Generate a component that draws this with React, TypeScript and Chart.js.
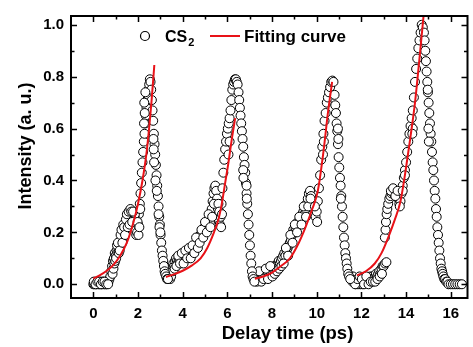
import React, { useEffect, useRef } from "react";
import { Chart, registerables } from "chart.js";

Chart.register(...registerables);

// ---- measured data (CS2 signal), four cycles ----
const cycleAX = [0.00,0.04,0.08,0.12,0.16,0.20,0.24,0.28,0.32,0.36,0.40,0.44,0.48,0.52,0.56,0.60,0.64,0.68,
  0.72,0.76,0.80,0.84,0.88,0.92,0.96,1.00,1.04,1.08,1.12,1.16,1.20,1.24,1.28,1.32,1.36,1.40,1.44,1.48,1.52,1.56,1.60,1.64,1.68,1.72,1.76,1.80,1.84,1.88,1.92,1.96,2.00,2.04,2.08,2.11,2.14,2.17,2.20,2.23,2.26,2.29,2.32,2.35,2.38,2.41,2.44,2.47,2.50,2.53,2.56,
  2.59,2.62,2.65,2.68,2.71,2.74,2.77,2.80,2.83,2.86,2.89,2.92,2.95,2.98,3.01,3.04,3.07,3.10,3.13,3.16,3.19,3.22,3.26,3.30,3.34,
  2.28,2.30,2.27,2.33,2.70,2.72,2.69,2.78,2.84,1.90,1.86,
  0.86,0.90,0.94,0.98,1.02,1.06,1.10,1.14,1.18,1.22,1.26,1.30,1.34,1.38,1.42,1.46,1.50,1.54,1.58,1.62,1.66,1.70,1.74,1.78,1.98,2.02,2.06,2.10,
  0.02,0.10,0.18,0.26,0.34,0.42,0.50,0.58,0.66,2.92,2.96,3.00];
const cycleAY = [0.00,0.00,0.01,0.00,0.00,0.01,0.00,0.00,0.01,0.00,0.00,0.01,0.00,0.00,0.01,0.00,0.01,0.01,
  0.02,0.03,0.05,0.07,0.09,0.10,0.12,0.11,0.13,0.12,0.14,0.16,0.15,0.17,0.19,0.18,0.20,0.22,0.21,0.23,0.25,0.24,0.26,0.27,0.25,0.27,0.26,0.24,0.22,0.21,0.19,0.20,0.23,0.27,0.31,0.35,0.39,0.43,0.47,0.51,0.55,0.58,0.62,0.65,0.68,0.71,0.73,0.75,0.77,0.79,0.78,
  0.75,0.71,0.67,0.63,0.58,0.54,0.50,0.46,0.42,0.38,0.34,0.30,0.26,0.23,0.19,0.16,0.13,0.11,0.09,0.07,0.05,0.04,0.03,0.02,0.02,
  0.70,0.66,0.62,0.74,0.52,0.47,0.56,0.40,0.36,0.25,0.27,
  0.04,0.06,0.08,0.09,0.10,0.15,0.16,0.12,0.13,0.19,0.21,0.16,0.23,0.22,0.19,0.25,0.27,0.22,0.28,0.23,0.29,0.28,0.24,0.28,0.24,0.19,0.22,0.29,
  0.01,0.00,0.01,0.01,0.00,0.01,0.01,0.00,0.00,0.27,0.22,0.20];

const cycleBX = [3.38,3.42,3.46,3.50,3.54,3.58,3.62,3.66,3.70,3.74,3.78,3.82,3.86,3.90,3.94,3.98,4.02,4.06,4.10,4.14,4.18,4.22,4.26,4.30,4.34,4.38,4.42,4.46,4.50,4.54,4.58,4.62,4.66,4.70,4.74,4.78,4.82,4.86,4.90,4.94,4.98,5.02,5.06,5.10,5.14,5.18,5.22,5.26,5.30,5.34,5.38,5.42,5.46,5.50,5.54,5.58,5.62,5.66,5.70,5.74,5.78,5.82,5.86,5.90,5.94,5.98,6.02,6.06,6.10,6.14,6.18,6.22,6.26,6.30,6.34,6.38,6.42,6.46,
  6.50,6.53,6.56,6.59,6.62,6.65,6.68,6.71,6.74,6.77,6.80,6.83,6.86,6.89,6.92,6.95,6.98,7.01,7.04,7.07,7.10,7.13,7.17,7.21,
  6.71,6.72,6.86,6.87,6.10,6.05,
  3.44,3.48,3.56,3.64,3.72,3.80,3.88,3.96,4.04,4.12,4.20,4.28,4.36,4.44,4.52,4.60,4.68,4.76,4.84,4.92,5.00,5.08,5.16,5.24,5.32,5.40,5.60,5.64,5.72,5.76];
const cycleBY = [0.03,0.04,0.06,0.05,0.07,0.08,0.07,0.09,0.10,0.09,0.08,0.09,0.10,0.11,0.10,0.09,0.10,0.12,0.11,0.10,0.12,0.13,0.12,0.11,0.12,0.14,0.13,0.12,0.14,0.15,0.14,0.16,0.17,0.16,0.18,0.19,0.18,0.20,0.21,0.20,0.22,0.21,0.23,0.22,0.24,0.25,0.24,0.27,0.29,0.32,0.35,0.37,0.38,0.36,0.33,0.29,0.25,0.23,0.26,0.31,0.37,0.43,0.48,0.52,0.55,0.58,0.60,0.62,0.64,0.67,0.71,0.75,0.77,0.78,0.79,0.79,0.78,0.77,
  0.74,0.71,0.68,0.65,0.62,0.59,0.56,0.53,0.49,0.46,0.43,0.39,0.35,0.31,0.27,0.23,0.19,0.15,0.11,0.08,0.05,0.03,0.02,0.01,
  0.44,0.41,0.38,0.33,0.55,0.50,
  0.02,0.03,0.05,0.06,0.07,0.11,0.08,0.12,0.08,0.13,0.10,0.14,0.10,0.15,0.12,0.18,0.14,0.16,0.21,0.18,0.24,0.20,0.27,0.22,0.26,0.31,0.31,0.28,0.22,0.27];

const cycleCX = [7.26,7.30,7.35,7.40,7.45,7.50,7.55,7.60,7.65,7.70,7.75,7.80,7.85,7.90,7.95,8.00,8.05,8.10,8.15,8.20,8.25,8.30,8.35,8.40,8.45,8.50,8.55,8.60,8.65,8.70,8.75,8.80,8.85,8.90,8.95,9.00,9.05,9.10,9.15,9.20,9.25,9.30,9.35,9.40,9.45,9.50,9.55,9.60,9.65,9.70,9.75,9.80,9.85,9.90,9.95,10.00,10.05,10.10,10.15,10.20,10.25,10.30,10.35,10.40,10.45,10.50,10.55,10.60,10.65,10.70,10.75,
  10.80,10.83,10.86,10.89,10.92,10.95,10.98,11.01,11.04,11.07,11.10,11.13,11.16,11.19,11.22,11.25,11.28,11.31,11.34,11.37,11.41,11.45,11.50,
  10.32,10.28,10.95,10.97,11.08,
  7.32,7.42,7.52,7.62,7.72,7.82,7.92,8.02,8.12,8.22,8.32,8.42,8.52,8.62,8.72,8.82,8.92,9.02,9.12,9.22,9.32,9.42,9.52,9.62,9.72,9.92,10.02];
const cycleCY = [0.02,0.03,0.04,0.03,0.02,0.03,0.04,0.05,0.04,0.03,0.04,0.05,0.06,0.05,0.04,0.05,0.06,0.07,0.06,0.07,0.08,0.09,0.08,0.09,0.10,0.11,0.12,0.11,0.13,0.14,0.15,0.16,0.17,0.19,0.21,0.20,0.22,0.23,0.24,0.23,0.25,0.26,0.27,0.28,0.27,0.29,0.31,0.33,0.35,0.36,0.34,0.31,0.29,0.27,0.26,0.28,0.32,0.37,0.42,0.48,0.53,0.58,0.63,0.66,0.70,0.72,0.74,0.76,0.78,0.785,0.78,
  0.73,0.69,0.66,0.62,0.59,0.54,0.49,0.45,0.41,0.38,0.34,0.30,0.26,0.22,0.18,0.15,0.12,0.10,0.08,0.06,0.04,0.03,0.02,
  0.55,0.50,0.60,0.56,0.33,
  0.01,0.05,0.01,0.02,0.06,0.02,0.07,0.03,0.04,0.05,0.06,0.07,0.08,0.14,0.11,0.19,0.16,0.23,0.20,0.26,0.23,0.30,0.26,0.30,0.33,0.30,0.24];

const cycleDX = [11.55,11.60,11.65,11.70,11.75,11.80,11.85,11.90,11.95,12.00,12.05,12.10,12.15,12.20,12.25,12.30,12.35,12.40,12.45,12.50,12.55,12.60,12.65,12.70,12.75,12.80,12.85,12.90,12.95,13.00,13.06,13.12,
  13.05,13.08,13.10,13.13,13.16,13.20,13.25,13.30,13.35,13.40,13.45,13.50,13.55,13.60,13.65,13.70,13.75,13.80,13.85,13.90,13.95,14.00,14.05,14.10,14.15,14.20,14.25,14.30,14.35,14.40,14.45,14.50,14.55,14.60,14.65,14.70,14.75,
  14.80,14.83,14.86,14.89,14.92,14.95,14.98,15.01,15.04,15.07,15.10,15.13,15.16,15.19,15.22,15.25,15.28,15.31,15.34,15.37,15.40,15.43,15.46,15.49,15.52,15.55,15.58,15.61,15.64,15.67,15.71,15.75,15.80,15.85,15.90,16.00,16.10,16.20,16.30,16.40,16.50,
  14.97,15.00,15.02,14.30,14.28,
  11.62,11.72,11.82,11.92,12.02,12.12,12.22,12.32,12.42,12.52,12.62,12.72,12.82,12.92,13.32,13.42,13.52,13.62,13.72,13.85,13.95];
const cycleDY = [0.02,0.01,0.02,0.01,0.00,0.01,0.00,0.01,0.00,0.01,0.00,0.01,0.02,0.01,0.02,0.01,0.02,0.03,0.02,0.03,0.02,0.03,0.04,0.03,0.04,0.05,0.04,0.06,0.07,0.07,0.08,0.085,
  0.18,0.21,0.24,0.27,0.29,0.31,0.33,0.34,0.35,0.36,0.35,0.36,0.35,0.34,0.33,0.31,0.32,0.35,0.38,0.41,0.44,0.47,0.51,0.55,0.58,0.61,0.64,0.67,0.72,0.78,0.83,0.87,0.91,0.94,0.97,1.00,0.99,
  0.97,0.94,0.90,0.86,0.82,0.78,0.74,0.70,0.66,0.62,0.58,0.55,0.51,0.47,0.44,0.40,0.36,0.33,0.29,0.26,0.22,0.19,0.16,0.13,0.10,0.08,0.06,0.05,0.04,0.03,0.02,0.02,0.01,0.01,0.00,0.00,0.00,0.00,0.00,0.00,0.00,
  0.75,0.60,0.55,0.60,0.58,
  0.03,0.00,0.02,0.03,0.02,0.00,0.03,0.00,0.01,0.01,0.01,0.02,0.03,0.04,0.36,0.37,0.34,0.36,0.30,0.36,0.42];

// ---- fitting curves ----
const fitAX = [0, 0.3, 0.6, 0.9, 1.2, 1.5, 1.8, 2.0, 2.2, 2.4, 2.6, 2.73];
const fitAY = [0.022, 0.035, 0.052, 0.075, 0.11, 0.16, 0.24, 0.31, 0.40, 0.52, 0.70, 0.845];
const fitBX = [3.25, 3.6, 4.0, 4.4, 4.8, 5.1, 5.4, 5.6, 5.75, 5.9, 6.05, 6.2, 6.35];
const fitBY = [0.028, 0.038, 0.052, 0.072, 0.10, 0.14, 0.20, 0.25, 0.31, 0.39, 0.47, 0.56, 0.64];
const fitCX = [7.23, 7.6, 8.0, 8.4, 8.8, 9.2, 9.5, 9.8, 10.05, 10.3, 10.5, 10.69];
const fitCY = [0.021, 0.03, 0.045, 0.07, 0.10, 0.16, 0.22, 0.29, 0.36, 0.51, 0.66, 0.78];
const fitDX = [11.8, 12.2, 12.6, 12.9, 13.2, 13.5, 13.75, 14.0, 14.2, 14.4, 14.6, 14.8];
const fitDY = [0.034, 0.05, 0.08, 0.12, 0.18, 0.25, 0.32, 0.45, 0.57, 0.70, 0.87, 1.05];

// ---- axes ----
const xMajorTicks = [0, 2, 4, 6, 8, 10, 12, 14, 16];
const xMinorTicks = [1, 3, 5, 7, 9, 11, 13, 15];
const yMajorTicks = [0, 0.2, 0.4, 0.6, 0.8, 1.0];
const yMinorTicks = [0.1, 0.3, 0.5, 0.7, 0.9];
const xTitle = "Delay time (ps)";
const yTitle = "Intensity (a. u.)";
const dataLabel = "CS";
const dataLabelSub = "2";
const fitLabel = "Fitting curve";

const FONT = '"Liberation Sans", Arial, sans-serif';
const RED = "rgb(232,18,24)";

const zip = (xs: number[], ys: number[]) => xs.map((x, i) => ({ x, y: ys[i] }));

const framePlugin = {
  id: "frameTicks",
  afterDatasetsDraw(chart: any) {
    const { ctx, chartArea, scales } = chart;
    const { left, right, top, bottom } = chartArea;
    const xs = scales.x, ys = scales.y;
    ctx.save();
    ctx.strokeStyle = "#000";
    ctx.lineWidth = 1.5;
    ctx.beginPath();
    const tick = (vals: number[], len: number, isX: boolean) => {
      for (const v of vals) {
        if (isX) {
          const p = Math.round(xs.getPixelForValue(v)) + 0.5;
          ctx.moveTo(p, bottom); ctx.lineTo(p, bottom - len);
          ctx.moveTo(p, top); ctx.lineTo(p, top + len);
        } else {
          const p = Math.round(ys.getPixelForValue(v)) + 0.5;
          ctx.moveTo(left, p); ctx.lineTo(left + len, p);
          ctx.moveTo(right, p); ctx.lineTo(right - len, p);
        }
      }
    };
    tick(xMajorTicks, 6, true);
    tick(xMinorTicks, 3.5, true);
    tick(yMajorTicks, 6, false);
    tick(yMinorTicks, 3.5, false);
    ctx.stroke();
    ctx.lineWidth = 2;
    ctx.strokeRect(left, top, right - left, bottom - top);

    // legend
    ctx.beginPath();
    ctx.arc(145, 36, 4.5, 0, Math.PI * 2);
    ctx.fillStyle = "#fff";
    ctx.fill();
    ctx.lineWidth = 1.2;
    ctx.stroke();
    ctx.fillStyle = "#000";
    ctx.textAlign = "left";
    ctx.textBaseline = "alphabetic";
    ctx.font = `bold 16px ${FONT}`;
    ctx.fillText(dataLabel, 165, 41.5);
    const w = ctx.measureText(dataLabel).width;
    ctx.font = `bold 11px ${FONT}`;
    ctx.fillText(dataLabelSub, 165 + w + 1, 46);
    ctx.strokeStyle = RED;
    ctx.lineWidth = 2;
    ctx.beginPath();
    ctx.moveTo(210, 36); ctx.lineTo(240, 36);
    ctx.stroke();
    ctx.font = `bold 17px ${FONT}`;
    ctx.fillText(fitLabel, 244, 42);

    // axis titles
    ctx.font = `bold 18.5px ${FONT}`;
    ctx.textAlign = "center";
    ctx.fillText(xTitle, 287.5, 338.5);
    ctx.save();
    ctx.translate(31, 146);
    ctx.rotate(-Math.PI / 2);
    ctx.font = `bold 18px ${FONT}`;
    ctx.fillText(yTitle, 0, 0);
    ctx.restore();
    ctx.restore();
  },
};

export default function App() {
  const ref = useRef<HTMLCanvasElement>(null);
  useEffect(() => {
    if (!ref.current) return;
    const fitStyle = {
      type: "line" as const,
      showLine: true,
      borderColor: RED,
      borderWidth: 2,
      pointRadius: 0,
      fill: false,
      cubicInterpolationMode: "monotone" as const,
    };
    const dataStyle = {
      type: "scatter" as const,
      pointRadius: 4.5,
      pointBorderWidth: 1,
      borderColor: "#000",
      backgroundColor: "#fff",
      pointBackgroundColor: "#fff",
      pointBorderColor: "#000",
      showLine: false,
    };
    const chart = new Chart(ref.current, {
      type: "scatter",
      data: {
        datasets: [
          { ...fitStyle, label: "fitA", data: zip(fitAX, fitAY) },
          { ...fitStyle, label: "fitB", data: zip(fitBX, fitBY) },
          { ...fitStyle, label: "fitC", data: zip(fitCX, fitCY) },
          { ...fitStyle, label: "fitD", data: zip(fitDX, fitDY) },
          { ...dataStyle, label: "A", data: zip(cycleAX, cycleAY) },
          { ...dataStyle, label: "B", data: zip(cycleBX, cycleBY) },
          { ...dataStyle, label: "C", data: zip(cycleCX, cycleCY) },
          { ...dataStyle, label: "D", data: zip(cycleDX, cycleDY) },
        ] as any,
      },
      options: {
        animation: false,
        responsive: false,
        maintainAspectRatio: false,
        layout: { padding: { top: 10, right: 2, left: 0, bottom: 0 } },
        plugins: { legend: { display: false }, tooltip: { enabled: false } },
        scales: {
          x: {
            type: "linear",
            min: -1,
            max: 16.75,
            grid: { display: false, drawTicks: false },
            border: { display: false },
            afterBuildTicks: (s: any) => { s.ticks = xMajorTicks.map((v) => ({ value: v })); },
            afterFit: (s: any) => { s.height = 49; },
            ticks: {
              padding: 7,
              color: "#000",
              font: { family: FONT, size: 15, weight: "bold" },
              callback: (v: any) => String(v),
            },
          },
          y: {
            type: "linear",
            min: -0.053,
            max: 1.034,
            grid: { display: false, drawTicks: false },
            border: { display: false },
            afterBuildTicks: (s: any) => { s.ticks = yMajorTicks.map((v) => ({ value: v })); },
            afterFit: (s: any) => { s.width = 71; },
            ticks: {
              padding: 7,
              color: "#000",
              font: { family: FONT, size: 15, weight: "bold" },
              callback: (v: any) => Number(v).toFixed(1),
            },
          },
        },
      } as any,
      plugins: [framePlugin],
    });
    return () => chart.destroy();
  }, []);
  return (
    <div style={{ position: "absolute", left: 0, top: 0, width: 473, height: 347, background: "#fff" }}>
      <canvas ref={ref} width={473} height={347} style={{ width: 473, height: 347, display: "block" }} />
    </div>
  );
}
